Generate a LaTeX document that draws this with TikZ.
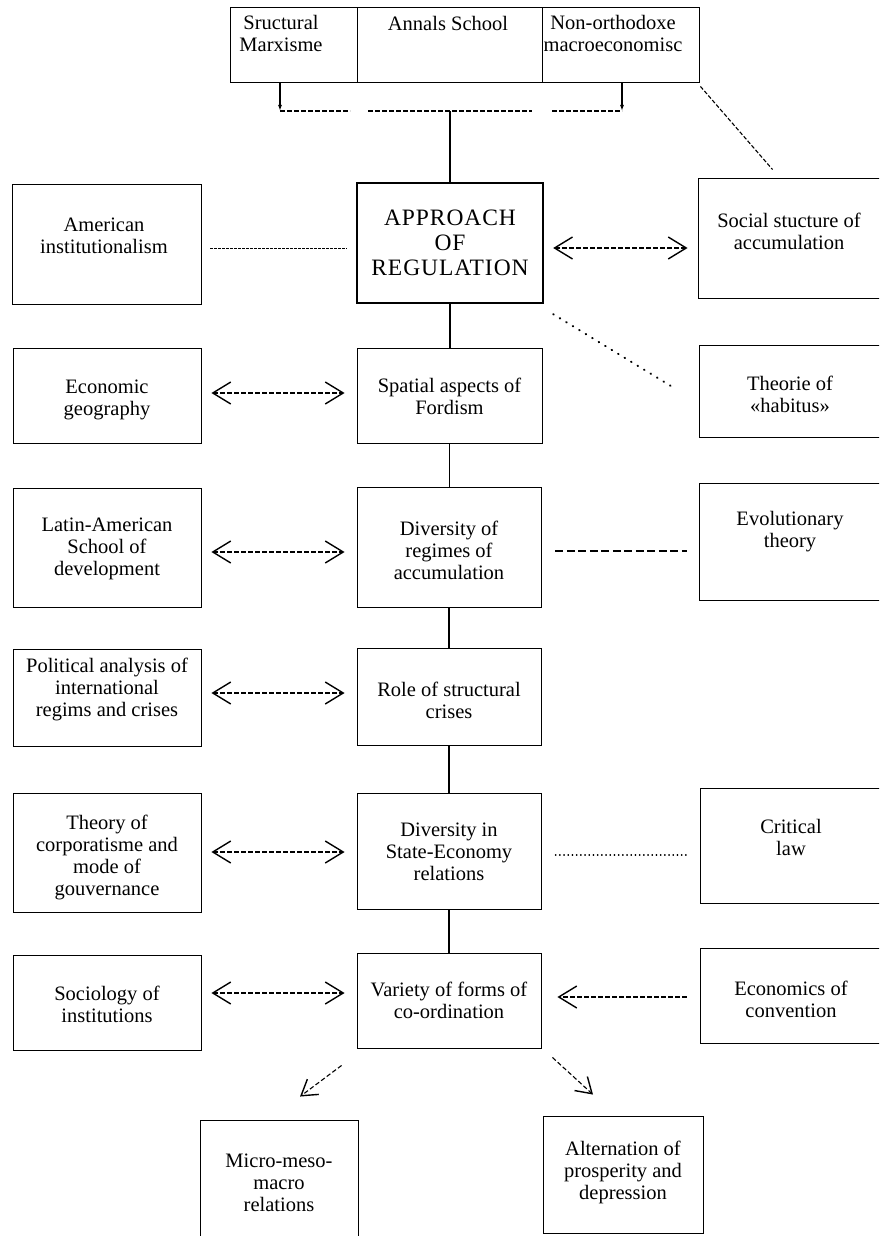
\documentclass[tikz,border=0pt]{standalone}
\usepackage{fontspec}
\setmainfont{Liberation Serif}
\newfontfamily\apprfont[LetterSpace=4]{Liberation Serif}
\usetikzlibrary{arrows.meta,calc}
\begin{document}
\begin{tikzpicture}[x=1pt,y=-1pt,
  box/.style={draw=black, line width=0.9pt, inner sep=0pt, rectangle},
  thick box/.style={box, line width=2.4pt},
  txt/.style={align=center, inner sep=0pt, font=\fontsize{20.5}{22}\selectfont},
  link/.style={line width=1.3pt},
  downarrow/.style={link, -{Latex[length=6pt,width=4pt]}},
  dbl/.style={line width=1.1pt, dash pattern=on 4.5pt off 2.5pt},
  finedash/.style={line width=1pt, dash pattern=on 3pt off 1pt},
  longdash/.style={line width=1.2pt, dash pattern=on 8pt off 3.5pt},
  bigdots/.style={line width=2pt, line cap=round, dash pattern=on 0.6pt off 7pt},
  smalldots/.style={line width=1.4pt, line cap=round, dash pattern=on 0.4pt off 3.8pt},
  >={Straight Barb[length=18pt,width=22pt,line width=1.4pt]},
  diag/.style={dbl, -{Straight Barb[length=15pt,width=19pt,line width=1.4pt]}}
]
\path[use as bounding box] (0,0) rectangle (879,1236);
\clip (0,0) rectangle (879,1236);
\fill[white] (0,0) rectangle (879,1236);

% ---- sources at the top ----
\node[box, minimum width=127, minimum height=75] (c1) at (293.5,44.5) {};
\node[box, minimum width=185, minimum height=75] (c2) at (449.5,44.5) {};
\node[box, minimum width=157, minimum height=75] (c3) at (620.5,44.5) {};
\node[txt] (c1t) at (281,33) {Sructural\\Marxisme};
\node[txt] (c2t) at (448,23) {Annals School};
\node[txt] (c3t) at (613,33) {Non-orthodoxe\\macroeconomisc};

\coordinate (jl) at (280,111);
\coordinate (jr) at (622,111);
\coordinate (jm) at (450,111);
\coordinate (g1) at (350,111);
\coordinate (g2) at (368,111);
\coordinate (g3) at (532,111);
\coordinate (g4) at (552,111);

\draw[downarrow] (c1.south -| jl) -- (jl);
\draw[downarrow] (c3.south -| jr) -- (jr);
\draw[line width=1.1pt, dash pattern=on 5pt off 2pt] (jl) -- (g1);
\draw[line width=1.1pt, dash pattern=on 5pt off 2pt] (g2) -- (g3);
\draw[line width=1.1pt, dash pattern=on 5pt off 2pt] (g4) -- (jr);

% ---- central column ----
\node[thick box, minimum width=186, minimum height=120, align=center,
      font=\apprfont\fontsize{23.5}{25}\selectfont] (appr) at (450,243)
      {APPROACH\\OF\\REGULATION};
\node[box, minimum width=185, minimum height=95] (spat) at (449.5,395.5) {};
\node[txt] (spatt) at (449.5,396) {Spatial aspects of\\Fordism};
\node[box, minimum width=184, minimum height=120] (divr) at (449,547) {};
\node[txt] (divrt) at (449,550) {Diversity of\\regimes of\\accumulation};
\node[box, minimum width=184, minimum height=97] (role) at (449,696.5) {};
\node[txt] (rolet) at (449,700) {Role of structural\\crises};
\node[box, minimum width=184, minimum height=116] (state) at (449,851) {};
\node[txt] (statet) at (449,852) {Diversity in\\State-Economy\\relations};
\node[box, minimum width=184, minimum height=95] (var) at (449,1000.5) {};
\node[txt] (vart) at (449,1000) {Variety of forms of\\co-ordination};

% ---- left column ----
\node[box, minimum width=189, minimum height=120] (amer) at (106.5,244) {};
\node[txt] (amert) at (104,236) {American\\institutionalism};
\node[box, minimum width=188, minimum height=95] (egeo) at (107,395.5) {};
\node[txt] (egeot) at (107,400) {Economic\\geography};
\node[box, minimum width=188, minimum height=119] (latin) at (107,547.5) {};
\node[txt] (latint) at (107,549) {Latin-American\\School of\\development};
\node[box, minimum width=188, minimum height=97] (polit) at (107,697.5) {};
\node[txt] (politt) at (107,689) {Political analysis of\\international\\regims and crises};
\node[box, minimum width=188, minimum height=119] (corp) at (107,852.5) {};
\node[txt] (corpt) at (107,857) {Theory of\\corporatisme and\\mode of\\gouvernance};
\node[box, minimum width=188, minimum height=95] (soci) at (107,1002.5) {};
\node[txt] (socit) at (107,1004) {Sociology of\\institutions};

% ---- right column ----
\node[box, minimum width=184, minimum height=120] (soc) at (790,238) {};
\node[txt] (soct) at (789,231) {Social stucture of\\accumulation};
\node[box, minimum width=183, minimum height=92] (habit) at (790.5,391) {};
\node[txt] (habitt) at (790,394) {Theorie of\\«habitus»};
\node[box, minimum width=183, minimum height=117] (evol) at (790.5,541.5) {};
\node[txt] (evolt) at (790,532) {Evolutionary\\theory};
\node[box, minimum width=182, minimum height=115] (crit) at (791,845.5) {};
\node[txt] (critt) at (791,837) {Critical\\law};
\node[box, minimum width=182, minimum height=95] (econv) at (791,995.5) {};
\node[txt] (econvt) at (791,999) {Economics of\\convention};

% ---- outcomes at the bottom ----
\node[box, minimum width=158, minimum height=125] (micro) at (279,1182.5) {};
\node[txt] (microt) at (279,1183) {Micro-meso-\\macro\\relations};
\node[box, minimum width=160, minimum height=117] (alt) at (623,1174.5) {};
\node[txt] (altt) at (623,1172) {Alternation of\\prosperity and\\depression};

% ---- solid spine ----
\draw[link] (jm) -- (appr.north);
\draw[link] (appr.south) -- (appr.south |- spat.north);
\draw[link] (spat.south) -- (spat.south |- divr.north);
\draw[link] (divr.south) -- (divr.south |- role.north);
\draw[link] (role.south) -- (role.south |- state.north);
\draw[link] (state.south) -- (state.south |- var.north);

% ---- relations ----
\draw[finedash] ($(amer.east)+(9,4)$) -- ($(appr.west)+(-9,5)$);
\draw[dbl,<->] ($(appr.east)+(9,5)$) -- ($(soc.west)+(-10,10)$);
\draw[dbl,<->] ($(egeo.east)+(10,-2.5)$) -- ($(spat.west)+(-12,-2.5)$);
\draw[dbl,<->] ($(latin.east)+(10,4.5)$) -- ($(divr.west)+(-12,5)$);
\draw[dbl,<->] ($(polit.east)+(10,-4.5)$) -- ($(role.west)+(-12,-3.5)$);
\draw[dbl,<->] ($(corp.east)+(10,-0.5)$) -- ($(state.west)+(-12,1)$);
\draw[dbl,<->] ($(soci.east)+(10,-9.5)$) -- ($(var.west)+(-12,-7.5)$);
\draw[dbl,->] ($(econv.west)+(-13,1.5)$) -- ($(var.east)+(16,-3.5)$);
\draw[bigdots] ($(appr.south east)+(9,10)$) -- ($(habit.west)+(-26,-4)$);
\draw[longdash] ($(divr.east)+(14,4)$) -- ($(evol.west)+(-12,9.5)$);
\draw[smalldots] ($(state.east)+(14,4)$) -- ($(crit.west)+(-13,9.5)$);
\draw[line width=1.1pt, dash pattern=on 4pt off 2pt] ($(c3.south east)+(1,4)$) -- ($(soc.north west)+(75,-8)$);
\draw[diag] ($(var.south west)+(-15,17)$) -- ($(micro.north)+(21,-23)$);
\draw[diag] ($(var.south east)+(11,9)$) -- ($(alt.north)+(-30,-21)$);
\end{tikzpicture}
\end{document}
